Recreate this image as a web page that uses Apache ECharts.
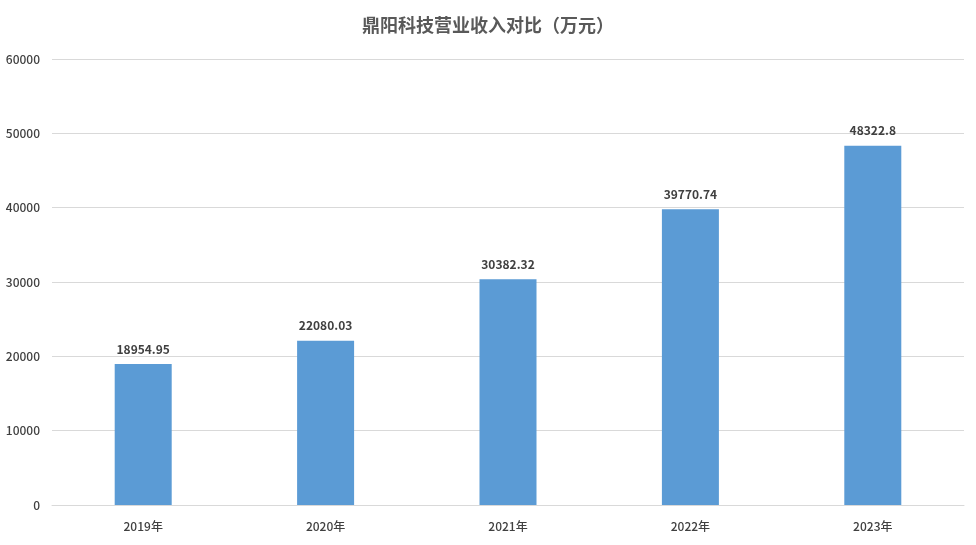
<!DOCTYPE html>
<html lang="zh">
<head>
	<meta charset="UTF-8">
	<title>鼎阳科技营业收入对比</title>
	<style>
		html,body{height: 100%;margin: 0;padding: 0;background: #fff;overflow: hidden;}
		#main{width: 976px;height: 545px;}
	</style>
</head>
<body>
	<div id="main"></div>
	<script src="https://cdn.jsdelivr.net/npm/echarts@6/dist/echarts.min.js"></script>
	<script>
		var years = ['2019年', '2020年', '2021年', '2022年', '2023年'];
		var revenue = [18954.95, 22080.03, 30382.32, 39770.74, 48322.8];
		var yTicks = [0, 10000, 20000, 30000, 40000, 50000, 60000];

		var font = '"Microsoft YaHei", "Noto Sans CJK SC", sans-serif';
		var chart = echarts.init(document.getElementById('main'));
		chart.setOption({
			animation: false,
			textStyle: {fontFamily: font},
			title: {
				text: '鼎阳科技营业收入对比（万元）',
				left: 'center',
				top: 11,
				textStyle: {color: '#595959', fontSize: 18, fontWeight: 'bold', fontFamily: font}
			},
			grid: {left: 52, right: 12, top: 59, bottom: 40},
			xAxis: {
				type: 'category',
				data: years,
				axisLine: {lineStyle: {color: '#d9d9d9'}},
				axisTick: {show: false},
				axisLabel: {color: '#404040', fontSize: 12, fontWeight: 500, margin: 15, fontFamily: font}
			},
			yAxis: {
				type: 'value',
				min: yTicks[0],
				max: yTicks[yTicks.length - 1],
				interval: 10000,
				axisLine: {show: false},
				axisTick: {show: false},
				splitLine: {lineStyle: {color: '#d9d9d9'}},
				axisLabel: {
					color: '#404040', fontSize: 12, fontWeight: 500, margin: 12, fontFamily: font,
					formatter: function (v) { return String(v); }
				}
			},
			series: [{
				type: 'bar',
				data: revenue,
				barWidth: 57,
				itemStyle: {color: '#5b9bd5'},
				label: {
					show: true,
					position: 'top',
					distance: 9,
					color: '#404040',
					fontSize: 12,
					fontWeight: 'bold',
					fontFamily: font
				}
			}]
		});
	</script>
</body>
</html>
